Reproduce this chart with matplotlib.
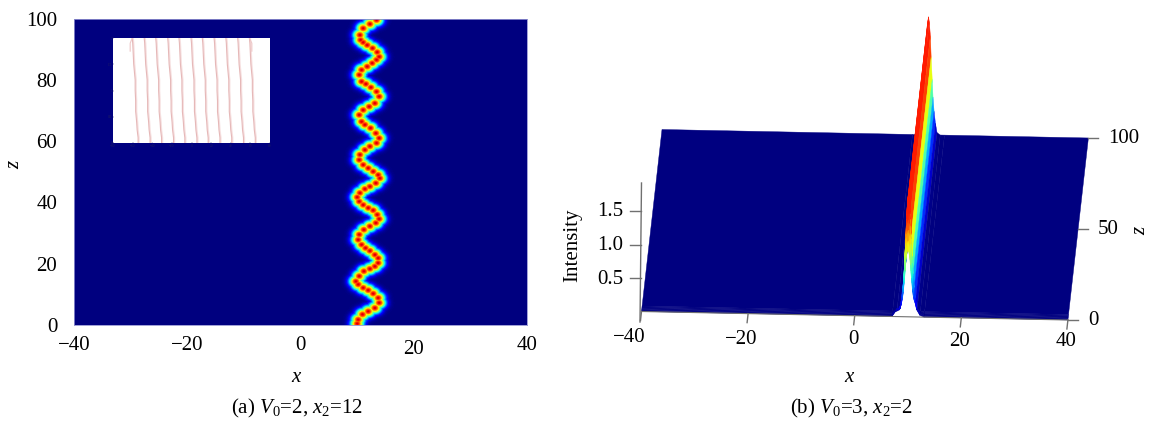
import numpy as np
import matplotlib
matplotlib.use('Agg')
import matplotlib.pyplot as plt
from matplotlib.collections import PolyCollection

# DATA --------------------------------------------------------------------

# left panel, bright beads along the beam
bead_x = [13.46, 12.28, 11.10, 10.51, 10.63, 11.10, 11.81, 12.75, 13.58, 13.93, 13.46, 12.69,
          11.81, 10.81, 10.40, 10.81, 11.57, 12.46, 13.46, 13.93, 13.16, 12.16, 11.10, 10.40,
          10.81, 11.40, 12.40, 13.34, 13.93, 13.46, 12.28, 11.40, 10.51, 10.40, 11.10, 11.99,
          12.87, 13.75, 14.05, 13.34, 12.28, 11.40, 10.51, 10.04, 10.40, 11.10, 11.99, 12.87,
          13.58, 13.93, 13.34, 12.28, 11.22, 10.40, 10.22, 10.81, 11.51, 12.28, 13.16, 13.75,
          13.75, 13.16, 12.28, 11.22, 10.40, 9.80, 10.22, 11.10, 11.99, 12.87, 13.75, 13.93,
          13.16, 11.99, 10.98, 10.22, 10.04]
bead_z = [99.5, 98.2, 96.8, 94.6, 93.0, 92.2, 91.3, 90.3, 89.0, 87.5, 86.5, 85.4,
          84.3, 83.2, 81.6, 79.4, 78.6, 77.5, 76.1, 74.5, 72.3, 71.2, 70.1, 68.5,
          66.3, 65.3, 64.2, 62.5, 60.9, 59.3, 58.2, 57.1, 55.5, 53.8, 52.2, 51.1,
          50.0, 48.9, 47.8, 46.2, 45.1, 44.3, 43.0, 41.6, 40.2, 39.1, 38.1, 37.3,
          35.9, 34.5, 33.2, 32.1, 31.0, 29.4, 27.7, 26.1, 25.0, 24.1, 22.8, 21.7,
          20.1, 19.0, 18.2, 17.4, 15.8, 14.1, 13.1, 12.0, 11.2, 10.1, 8.7, 7.1,
          5.4, 4.3, 3.3, 1.6, 0.3]

# inset, one waveguide line: offset from its top position against height
inset_tops = [-60.4, -48.2, -36.5, -24.3, -12.8, -0.5, 11.0, 23.0, 35.0, 47.0, 59.0]
inset_y = [2.0, 1.9, 1.7, 1.5, 1.2, 1.0, 0.8, 0.6, 0.4, 0.25, 0.1, 0.0]
inset_off = [0.0, 0.5, 1.0, 1.5, 3.0, 3.0, 3.5, 3.5, 4.5, 5.0, 6.0, 6.0]

# right panel, ridge cross section and crest height along z
ridge_dx = [-3.0, -2.2, -1.6, -1.3, -1.05, -0.85, -0.7, -0.5, -0.35, -0.15, 0.0,
            0.15, 0.35, 0.5, 0.7, 0.85, 1.05, 1.3, 1.6, 2.2, 3.0]
ridge_shape = [0.0, 0.0, 0.02, 0.1, 0.2, 0.32, 0.47, 0.66, 0.84, 0.96, 1.0,
               0.96, 0.84, 0.66, 0.47, 0.32, 0.2, 0.1, 0.02, 0.0, 0.0]
foot_shape = [0.0, 1.0, 0.9, 0.8, 0.8, 0.8, 0.8, 0.8, 0.8, 0.8, 0.8,
              0.8, 0.8, 0.8, 0.8, 0.8, 0.9, 1.3, 1.0, 0.3, 0.0]
ridge_z = [100.0, 3.0, 2.5, 2.0, 1.6, 1.2, 0.8, 0.4, 0.0]
ridge_amp = [1.76, 1.76, 1.72, 1.62, 1.5, 1.35, 1.2, 1.05, 0.93]
ridge_foot = [0.0, 0.0, 0.03, 0.05, 0.07, 0.08, 0.09, 0.09, 0.09]
ridge_x0 = 10.0
peak = 1.76

xticks = [-40, -20, 0, 20, 40]
zticks_left = [0, 20, 40, 60, 80, 100]
zticks_right = [0, 50, 100]
iticks = [0.5, 1.0, 1.5]

# ESTILO ------------------------------------------------------------------

plt.rcParams['font.family'] = 'Liberation Serif'
plt.rcParams['mathtext.fontset'] = 'custom'
plt.rcParams['mathtext.rm'] = 'Liberation Serif'
plt.rcParams['mathtext.it'] = 'Liberation Serif:italic'
W, H = 1149, 424
FS = 15
GRAY = '#707070'

fig = plt.figure(figsize=(W / 100, H / 100), dpi=100)
over = fig.add_axes([0, 0, 1, 1])
over.set_xlim(0, W)
over.set_ylim(H, 0)
over.axis('off')

# PANEL (a) ---------------------------------------------------------------

ax = fig.add_axes([74 / W, 1 - 325 / H, 453 / W, 306.5 / H])
gx = np.linspace(-40, 40, 453)
gz = np.linspace(0, 100, 307)
XX, ZZ = np.meshgrid(gx, gz)
field = np.zeros_like(XX)
for bx, bz in zip(bead_x, bead_z):
    # máximo y no suma, para que las cuentas queden separadas
    field = np.maximum(field, np.exp(-(XX - bx)**2 / (2 * 0.82**2) - (ZZ - bz)**2 / (2 * 1.3**2)))
ax.imshow(field, extent=[-40, 40, 0, 100], origin='lower', aspect='auto', cmap='jet',
          vmin=0, vmax=1.08, interpolation='bilinear')
ax.set_xticks(xticks)
ax.set_yticks(zticks_left)
ax.set_xticklabels([str(t).replace('-', '\u2212') for t in xticks], fontsize=FS)
ax.set_yticklabels([str(t) for t in zticks_left], fontsize=FS)
ax.tick_params(axis='x', length=0, pad=8)
ax.tick_params(axis='y', length=0, pad=12)
ax.get_xticklabels()[3].set_y(-0.014)
for s in ax.spines.values():
    s.set_color('#9090d0')
    s.set_linewidth(0.6)

# inset
ins = fig.add_axes([113 / W, 1 - 143 / H, 157 / W, 105 / H])
ins.set_facecolor('white')
for top in inset_tops:
    xs = np.array(inset_off) + top
    ins.plot(xs + 0.9, inset_y, color='#f6e0e0', lw=1.1)
    ins.plot(xs, inset_y, color='#e6b8b8', lw=0.8)
ins.plot([-60.4, -62.5, -62.5], [2.0, 1.9, 1.75], color='#eec8c8', lw=0.8)
ins.plot([59.0, 61.5, 61.5], [2.0, 1.9, 1.75], color='#eec8c8', lw=0.8)
ins.set_xlim(-80, 80)
ins.set_ylim(0, 2)
ins.set_xticks(range(-80, 81, 20))
ins.set_yticks([0, 0.5, 1, 1.5, 2])
ins.set_yticklabels(['0', '0.5', '1', '1.5', '2'])
ins.tick_params(labelsize=2.5, length=1, width=0.3, pad=0.5, colors='#202060', direction='in')
for s in ins.spines.values():
    s.set_visible(False)

over.text(296, 378, 'x', style='italic', fontsize=FS, ha='center', va='center')
over.text(15, 165, 'z', style='italic', fontsize=FS, ha='center', va='center', rotation=90)
over.text(297, 408, r'(a) $\mathit{V}_0$=2, $\mathit{x}_2$=12', fontsize=FS, ha='center', va='center')

# PANEL (b) ---------------------------------------------------------------

def project(x, z, i=0.0):
    # la vista es casi afín, los coeficientes salen de las esquinas del plano
    x = np.asarray(x, dtype=float)
    return 641.5 + 5.33 * (x + 40) + 0.205 * z, 311.5 + 0.106 * (x + 40) - 1.82 * z - 67 * i

cols = [-40.0] + [ridge_x0 + d for d in ridge_dx] + [40.0]
shape = np.array([0.0] + ridge_shape + [0.0])
foot = np.array([0.0] + foot_shape + [0.0])
cmap = plt.get_cmap('jet')
polys, colors = [], []
for r in range(len(ridge_z) - 1):
    z0, z1 = ridge_z[r], ridge_z[r + 1]
    i0 = ridge_amp[r] * shape + ridge_foot[r] * foot
    i1 = ridge_amp[r + 1] * shape + ridge_foot[r + 1] * foot
    for c in range(len(cols) - 1):
        pts = [project(cols[c], z0, i0[c]), project(cols[c + 1], z0, i0[c + 1]),
               project(cols[c + 1], z1, i1[c + 1]), project(cols[c], z1, i1[c])]
        polys.append(pts)
        level = np.mean([i0[c], i0[c + 1], i1[c], i1[c + 1]]) / peak
        colors.append(cmap(min(level * 1.12, 0.88)))
over.add_collection(PolyCollection(polys, facecolors=colors, edgecolors=colors, linewidths=0.3))

# ejes de la vista
over.plot([641.5, 640], [183, 322], color=GRAY, lw=1)
for t in iticks:
    _, v = project(-40, 0, t)
    over.plot([630, 641], [v, v], color=GRAY, lw=1)
    over.text(623, v + 1, '%.1f' % t, fontsize=FS, ha='right', va='center')
fu, fv = project(np.array([-40, 40]), 0)
over.plot(fu, fv, color=GRAY, lw=0.8)
xlabel_pos = [(629, 338), (741, 339), (853, 340), (960, 341), (1066, 342)]
for t, (tx, ty) in zip(xticks, xlabel_pos):
    u, v = project(t, 0)
    over.plot([u, u - 1], [v, v + 9], color=GRAY, lw=1)
    over.text(tx, ty, str(t).replace('-', '\u2212'), fontsize=FS, ha='center', va='center')
for t in zticks_right:
    u, v = project(40, t)
    over.plot([u, u + 10], [v, v], color=GRAY, lw=1)
    over.text(u + 20, v + 1, str(t), fontsize=FS, ha='left', va='center')
over.text(573, 245, 'Intensity', fontsize=FS, ha='center', va='center', rotation=90)
over.text(849, 378, 'x', style='italic', fontsize=FS, ha='center', va='center')
over.text(1141, 231, 'z', style='italic', fontsize=FS, ha='center', va='center', rotation=90)
over.text(851, 408, r'(b) $\mathit{V}_0$=3, $\mathit{x}_2$=2', fontsize=FS, ha='center', va='center')

fig.savefig('out.png', dpi=100)
